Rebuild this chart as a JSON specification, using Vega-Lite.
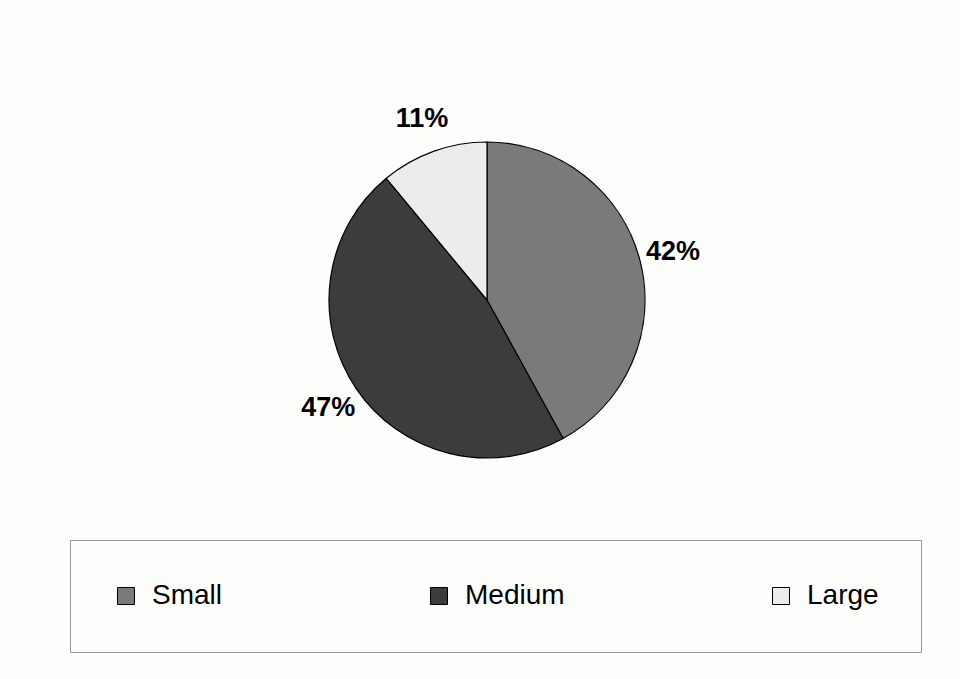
{
  "$schema": "https://vega.github.io/schema/vega-lite/v6.json",
  "width": 950,
  "height": 600,
  "padding": {"left": 12, "top": 0, "right": 0, "bottom": 79},
  "autosize": {"type": "none"},
  "background": "#fdfdfb",
  "view": {"stroke": null},
  "data": {
    "values": [
      {"size": "Small", "share": 0.42, "idx": 1},
      {"size": "Medium", "share": 0.47, "idx": 2},
      {"size": "Large", "share": 0.11, "idx": 3}
    ]
  },
  "encoding": {
    "theta": {"field": "share", "type": "quantitative", "stack": true},
    "order": {"field": "idx", "type": "quantitative"}
  },
  "layer": [
    {
      "mark": {"type": "arc", "radius": 158, "stroke": "#000", "strokeWidth": 1.2},
      "encoding": {
        "color": {
          "field": "size",
          "type": "nominal",
          "scale": {"domain": ["Small", "Medium", "Large"], "range": ["#7a7a7a", "#3c3c3c", "#ececec"]},
          "legend": {
            "title": null,
            "orient": "none",
            "legendX": 58,
            "legendY": 540,
            "direction": "horizontal",
            "columns": 3,
            "symbolType": "square",
            "symbolSize": 289,
            "symbolStrokeColor": "#000",
            "symbolStrokeWidth": 1,
            "labelFontSize": 28,
            "labelFont": "Liberation Sans",
            "labelColor": "#000",
            "labelOffset": 12,
            "columnPadding": 202,
            "padding": 42,
            "strokeColor": "#999",
            "fillColor": "#fdfdfb"
          }
        }
      }
    },
    {
      "mark": {"type": "text", "radius": 192, "font": "Liberation Sans", "fontWeight": "bold", "fontSize": 27, "fill": "#000"},
      "encoding": {
        "detail": {"field": "size", "type": "nominal"},
        "text": {"field": "share", "type": "quantitative", "format": ".0%"}
      }
    }
  ]
}
